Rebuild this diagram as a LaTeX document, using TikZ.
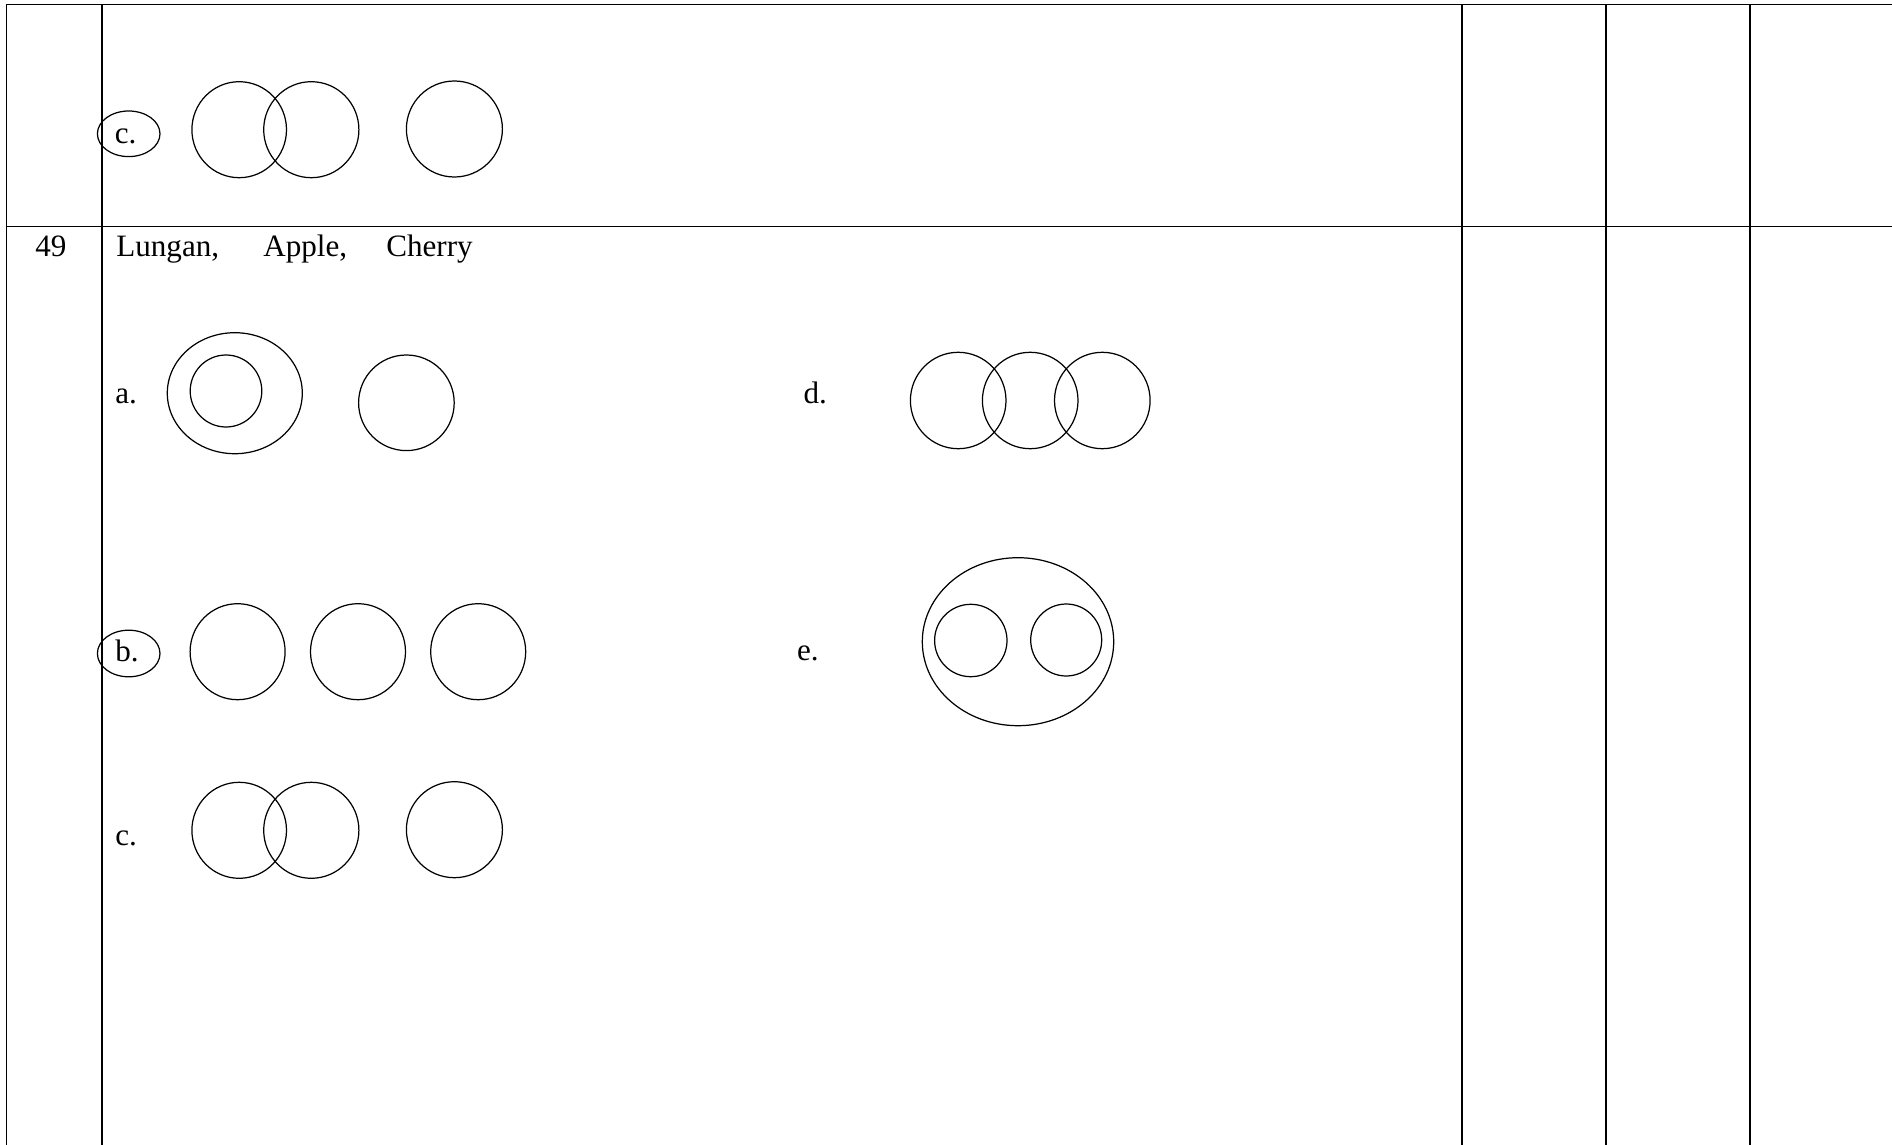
\documentclass[tikz,border=0pt]{standalone}
\usepackage{fontspec}
\setmainfont{Liberation Serif}

\begin{document}
\begin{tikzpicture}[x=0.02cm,y=-0.02cm,
  grid/.style={line width=0.9pt},
  venn/.style={line width=0.7pt},
  lbl/.style={anchor=base west,inner sep=0pt,font=\fontsize{17.7}{21}\selectfont}]
  \useasboundingbox (0,0) rectangle (1892,1145);

  \coordinate (TL) at (6.5,4.5);
  \coordinate (TR) at (1892,4.5);
  \coordinate (ML) at (6.5,226.5);
  \coordinate (MR) at (1892,226.5);
  \coordinate (BL) at (6.5,1145);
  \coordinate (NA) at (102,4.5);
  \coordinate (NB) at (102,1145);
  \coordinate (PA) at (1462,4.5);
  \coordinate (PB) at (1462,1145);
  \coordinate (QA) at (1605.7,4.5);
  \coordinate (QB) at (1605.7,1145);
  \coordinate (RA) at (1750,4.5);
  \coordinate (RB) at (1750,1145);

  \draw[grid] (TL) -- (TR);
  \draw[grid] (ML) -- (MR);
  \draw[grid] (TL) -- (BL);
  \draw[grid] (NA) -- (NB);
  \draw[grid] (PA) -- (PB);
  \draw[grid] (QA) -- (QB);
  \draw[grid] (RA) -- (RB);

  
  \node[lbl] (c1) at (114.5,143.5) {c.};
  \draw[venn] (128.7,133.8) ellipse [x radius=31.3, y radius=22.8];
  \draw[venn] (239.2,129.7) ellipse [x radius=47.3, y radius=48];
  \draw[venn] (311.3,129.7) ellipse [x radius=47.6, y radius=48];
  \draw[venn] (454.4,129) ellipse [x radius=48, y radius=48];

  
  \node[lbl,anchor=base] (num) at (51,257) {49};
  \node[lbl] (lungan) at (116,257) {Lungan,};
  \node[lbl] (apple) at (263,257) {Apple,};
  \node[lbl] (cherry) at (386,257) {Cherry};

  \node[lbl] (a) at (115,403.3) {a.};
  \draw[venn] (234.8,393.2) ellipse [x radius=67.5, y radius=60.5];
  \draw[venn] (226,391) ellipse [x radius=35.8, y radius=36];
  \draw[venn] (406.4,402.8) ellipse [x radius=47.8, y radius=47.8];

  \node[lbl] (b) at (115,661) {b.};
  \draw[venn] (128.7,653.5) ellipse [x radius=31.3, y radius=23.3];
  \draw[venn] (237.6,651.7) ellipse [x radius=47.5, y radius=48];
  \draw[venn] (358,651.7) ellipse [x radius=47.5, y radius=48];
  \draw[venn] (478.2,651.7) ellipse [x radius=47.5, y radius=48];

  \node[lbl] (c2) at (115,845) {c.};
  \draw[venn] (239.2,830.3) ellipse [x radius=47.3, y radius=48];
  \draw[venn] (311.3,830.3) ellipse [x radius=47.6, y radius=48];
  \draw[venn] (454.4,829.7) ellipse [x radius=48, y radius=48];

  \node[lbl] (d) at (803.3,403.3) {d.};
  \draw[venn] (958.2,400.5) ellipse [x radius=47.8, y radius=48.2];
  \draw[venn] (1030.2,400.5) ellipse [x radius=47.8, y radius=48.2];
  \draw[venn] (1102.3,400.5) ellipse [x radius=47.8, y radius=48.2];

  \node[lbl] (e) at (796.7,660.7) {e.};
  \draw[venn] (1018,641.7) ellipse [x radius=95.7, y radius=84];
  \draw[venn] (970.8,640.5) ellipse [x radius=36.2, y radius=36.2];
  \draw[venn] (1066.2,640) ellipse [x radius=35.5, y radius=36];
\end{tikzpicture}
\end{document}
